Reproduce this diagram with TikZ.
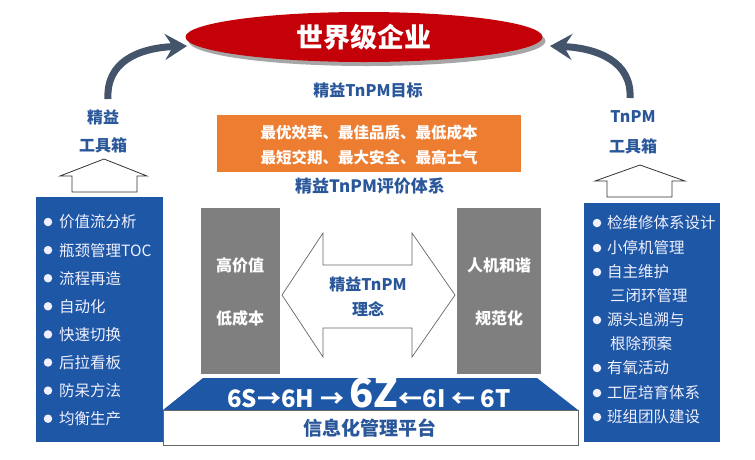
\documentclass[tikz,border=0pt]{standalone}
\usepackage{fontspec}
\setmainfont{Noto Sans CJK SC}
\usetikzlibrary{arrows.meta,shapes.geometric}
\definecolor{panelblue}{HTML}{1D57A5}
\definecolor{txtblue}{HTML}{2A579A}
\definecolor{arrowgray}{HTML}{44546A}
\definecolor{boxgray}{HTML}{7F7F7F}
\definecolor{orangebox}{HTML}{ED7D31}
\definecolor{redell}{HTML}{C40008}
\tikzset{
  bluetitle/.style={text=txtblue, font=\fontsize{16}{16}\selectfont\bfseries, inner sep=0pt},
  whitebold/.style={text=white, font=\fontsize{16}{16}\selectfont\bfseries, inner sep=0pt},
  listitem/.style={text=white!94!blue, font=\fontsize{15.5}{15.5}\selectfont, anchor=west, inner sep=0pt},
  bulletdot/.style={circle, fill=white!94!blue, minimum size=8.5pt, inner sep=0pt},
  housearrow/.style={draw=black!80, fill=white, line width=0.8pt},
  bigcurve/.style={draw=arrowgray, line width=7pt, -{Stealth[length=22pt,width=26pt,inset=8pt]}},
}
\begin{document}
\begin{tikzpicture}[x=1pt,y=-1pt]
\useasboundingbox (0,0) rectangle (755,459);
\fill[white] (0,0) rectangle (755,459);

% title ellipse
\node[ellipse, fill=black!35, minimum width=357pt, minimum height=50pt] (shadow) at (367,41) {};
\node[ellipse, fill=redell, minimum width=357pt, minimum height=50pt] (ell) at (364,37) {};
\node[whitebold, font=\fontsize{27}{27}\selectfont\bfseries] (title) at (364,37) {世界级企业};

% curved arrows
\coordinate (lstart) at (108,99);
\coordinate (ltip) at (187,46);
\coordinate (rstart) at (630,98);
\coordinate (rtip) at (550,46);
\draw[bigcurve] (lstart) .. controls (106,62) and (138,48) .. (ltip);
\draw[bigcurve] (rstart) .. controls (632,62) and (598,48) .. (rtip);

% goal texts
\node[bluetitle] (goal) at (368,90) {精益TnPM目标};
\node[fill=orangebox, minimum width=304pt, minimum height=57pt, inner sep=0pt] (obox) at (369,143.5) {};
\node[whitebold, font=\fontsize{15.5}{15.5}\selectfont\bfseries] (o1) at (369,133) {最优效率、最佳品质、最低成本};
\node[whitebold, font=\fontsize{15.5}{15.5}\selectfont\bfseries] (o2) at (369,158) {最短交期、最大安全、最高士气};
\node[bluetitle, font=\fontsize{17}{17}\selectfont\bfseries] (eval) at (370,186) {精益TnPM评价体系};

% gray boxes
\node[fill=boxgray, minimum width=79pt, minimum height=166pt, inner sep=0pt] (lgray) at (240.5,291) {};
\node[fill=boxgray, minimum width=84pt, minimum height=166pt, inner sep=0pt] (rgray) at (499,291) {};
\node[whitebold] (g1) at (240,265) {高价值};
\node[whitebold] (g2) at (240,318) {低成本};
\node[whitebold] (g3) at (499,265) {人机和谐};
\node[whitebold] (g4) at (499,318) {规范化};

% double arrow
\filldraw[fill=white, draw=black!60, line width=0.7pt]
  (282,295) -- (323,233) -- (323,265) -- (412,265) -- (412,233) -- (455,295)
  -- (412,357) -- (412,328) -- (323,328) -- (323,357) -- cycle;
\node[bluetitle] (idea1) at (368,284) {精益TnPM};
\node[bluetitle] (idea2) at (368,309) {理念};

% bottom platform
\fill[panelblue] (203,378) -- (537,378) -- (578,410) -- (163,410) -- cycle;
\node[draw=black!60, line width=0.8pt, fill=white, minimum width=415pt, minimum height=35pt, inner sep=0pt] (plat) at (370.5,427.5) {};
\node[bluetitle, font=\fontsize{19}{19}\selectfont\bfseries] (platt) at (370,428) {信息化管理平台};
\node[text=white, inner sep=0pt, anchor=base] (sixz) at (369,407) {\fontsize{24}{24}\selectfont\bfseries 6S→6H → {\fontsize{40}{40}\selectfont 6Z}←6I ← 6T};

% left panel
\fill[panelblue] (36,197) rectangle (163,442);
\foreach \t [count=\i from 0] in {价值流分析,瓶颈管理TOC,流程再造,自动化,快速切换,后拉看板,防呆方法,均衡生产}{
  \node[bulletdot] (lb\i) at (48,{222+28.1*\i}) {};
  \node[listitem] (lt\i) at (59,{222+28.1*\i}) {\t};
}

% right panel
\fill[panelblue] (584,203) rectangle (720,442);
\foreach \t/\yy [count=\i from 0] in {检维修体系设计/223,小停机管理/248,自主维护/272,源头追溯与/320,有氧活动/368,工匠培育体系/393,班组团队建设/417}{
  \node[bulletdot] (rb\i) at (597,\yy) {};
  \node[listitem] (rt\i) at (607,\yy) {\t};
}
\node[listitem] (rc1) at (610,296) {三闭环管理};
\node[listitem] (rc2) at (610,344) {根除预案};

% house arrows
\filldraw[housearrow] (104,159) -- (147,176) -- (137,176) -- (137,192) -- (72,192) -- (72,176) -- (60,176) -- cycle;
\filldraw[housearrow] (640,165) -- (685,181) -- (672,181) -- (672,197) -- (607,197) -- (607,181) -- (595,181) -- cycle;

% tool labels
\node[bluetitle] (ll1) at (103,117) {精益};
\node[bluetitle] (ll2) at (103,145) {工具箱};
\node[bluetitle] (rl1) at (633,117) {TnPM};
\node[bluetitle] (rl2) at (633,146) {工具箱};
\end{tikzpicture}
\end{document}
